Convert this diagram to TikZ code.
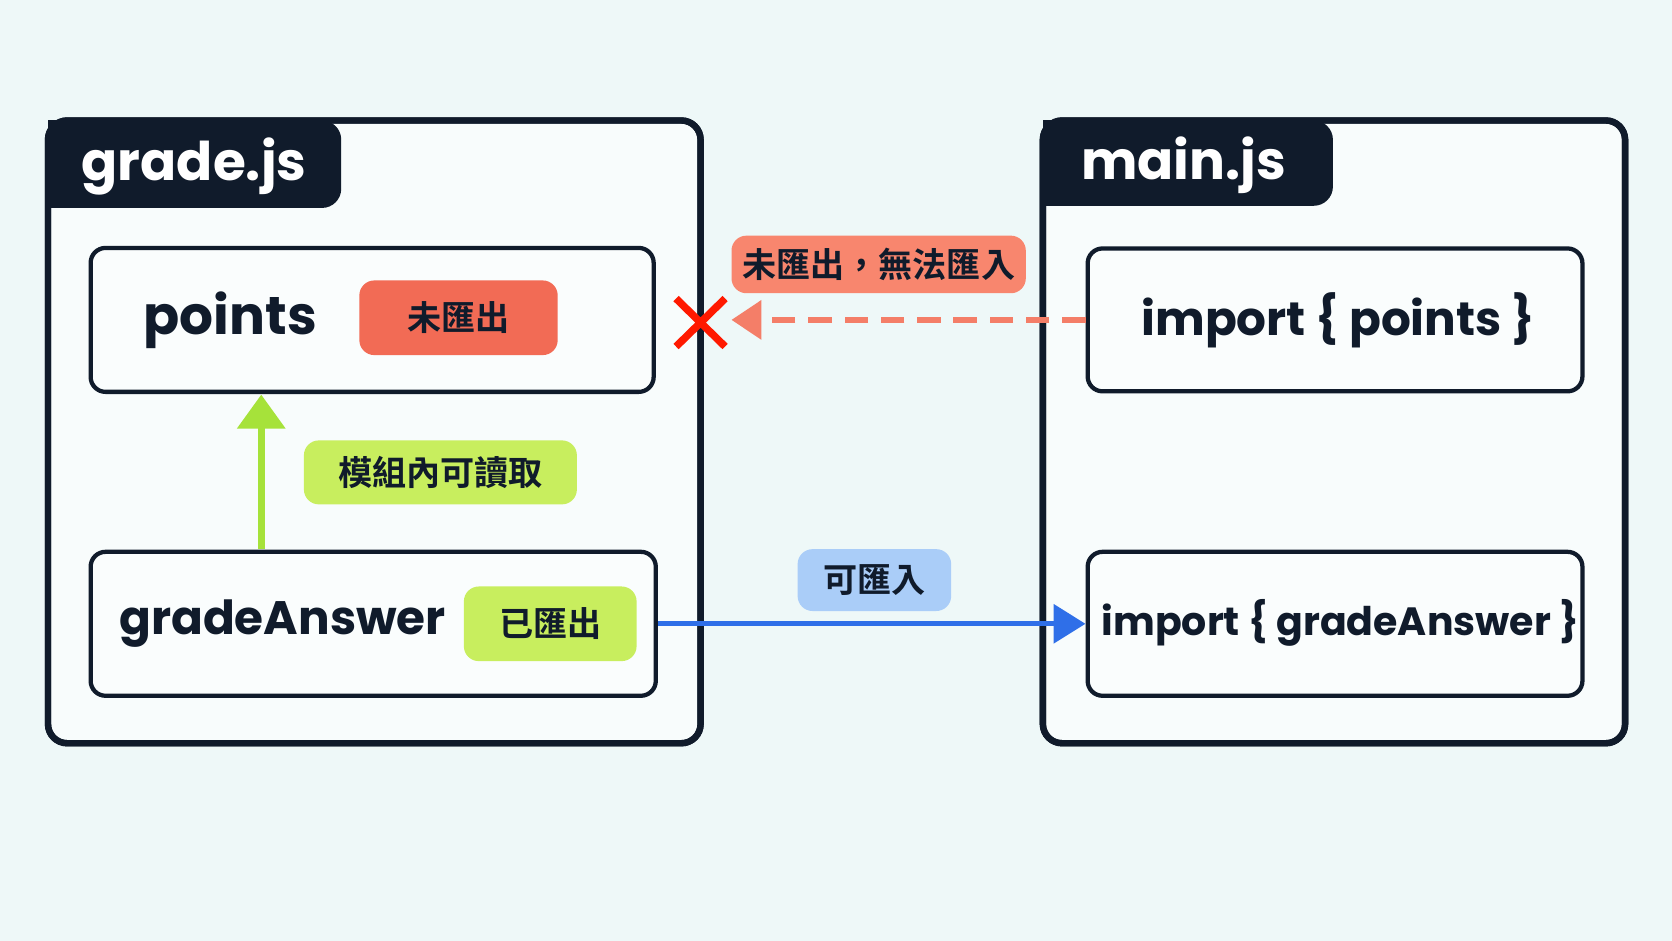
\documentclass[tikz,border=0pt]{standalone}
\usepackage{fontspec}
\setmainfont{Poppins}
\newfontfamily\cjk{Noto Sans CJK TC}[BoldFont={Noto Sans CJK TC Bold}]
\usetikzlibrary{arrows.meta}
\definecolor{bg}{HTML}{EEF8F8}
\definecolor{navy}{HTML}{101B2B}
\definecolor{redb}{HTML}{F26B55}
\definecolor{redl}{HTML}{F8866E}
\definecolor{reda}{HTML}{F47E68}
\definecolor{greenb}{HTML}{C8EE5E}
\definecolor{greena}{HTML}{A6E23A}
\definecolor{blueb}{HTML}{AACDF8}
\definecolor{bluea}{HTML}{2F6FE8}
\tikzset{
 outer/.style={draw=navy,line width=3pt,rounded corners=9pt,fill=white!60!bg},
 inner/.style={draw=navy,line width=2pt,rounded corners=7pt,fill=white!70!bg},
 badge/.style={rounded corners=7pt,inner sep=0pt,font=\cjk\bfseries\fontsize{16}{18}\selectfont,text=navy},
 tabtxt/.style={text=white,font=\bfseries\fontsize{25}{28}\selectfont,anchor=center},
}
\begin{document}
\begin{tikzpicture}[x=0.5pt,y=-0.5pt]
\fill[bg] (0,0) rectangle (1568,882);
\useasboundingbox (0,0) rectangle (1568,882);
% outer boxes
\draw[outer] (45,113) rectangle (657,697);
\fill[navy,rounded corners=9pt] (45,113) -- (320,113) -- (320,195) -- (45,195) -- cycle;
\fill[navy] (45,113) rectangle (100,195);
\node[tabtxt] (t1) at (182,156) {grade.js};
\draw[outer] (978,113) rectangle (1524,697);
\fill[navy,rounded corners=9pt] (978,113) -- (1250,113) -- (1250,193) -- (978,193) -- cycle;
\fill[navy] (978,113) rectangle (1030,193);
\node[tabtxt] (t2) at (1110,155) {main.js};
\draw[outer,fill=none] (45,113) rectangle (657,697);
\draw[outer,fill=none] (978,113) rectangle (1524,697);
% inner boxes
\node[inner,minimum width=264pt,minimum height=67.5pt] (pts) at (349,300) {};
\node[font=\bfseries\fontsize{25}{28}\selectfont,text=navy] (ptsl) at (216,300) {points};
\node[badge,fill=redb,minimum width=93pt,minimum height=35pt] (nb) at (430,298) {未匯出};
\node[inner,minimum width=265pt,minimum height=67.5pt] (ga) at (350,585) {};
\node[font=\bfseries\fontsize{22}{26}\selectfont,text=navy] (gal) at (265,585) {gradeAnswer};
\node[badge,fill=greenb,minimum width=81pt,minimum height=35pt] (yb) at (516,585) {已匯出};
\node[inner,minimum width=232pt,minimum height=67pt] (ip) at (1252,300) {};
\node[font=\bfseries\fontsize{22}{26}\selectfont,text=navy] at (1255,300) {import \{ points \}};
\node[inner,minimum width=232pt,minimum height=67.5pt] (ig) at (1252,585) {};
\node[font=\bfseries\fontsize{18.5}{22}\selectfont,text=navy] at (1257,584) {import \{ gradeAnswer \}};
% green arrow
\coordinate (gs) at (245,515);
\coordinate (ge) at (245,370);
\draw[greena,line width=3.5pt,-{Triangle[length=16pt,width=22pt]}] (gs) -- (ge);
\node[badge,fill=greenb,minimum width=128pt,minimum height=30pt] (gl) at (413,443) {模組內可讀取};
% red dashed
\coordinate (rs) at (1018,300);
\coordinate (re) at (686,300);
\draw[reda,line width=2.5pt,dash pattern=on 11pt off 6pt,-{Triangle[length=14pt,width=18pt]}] (rs) -- (re);
\node[badge,fill=redl,minimum width=138pt,minimum height=27pt] (rl) at (824,248) {未匯出，無法匯入};
\draw[red!80!orange,line width=3.5pt] (634,280) -- (680,325) (680,280) -- (634,325);
% blue arrow
\draw[bluea,line width=2.5pt,-{Triangle[length=15pt,width=18pt]}] (ga.east) -- (ig.west);
\node[badge,fill=blueb,minimum width=72pt,minimum height=29pt] (bl) at (820,544) {可匯入};
\end{tikzpicture}
\end{document}
